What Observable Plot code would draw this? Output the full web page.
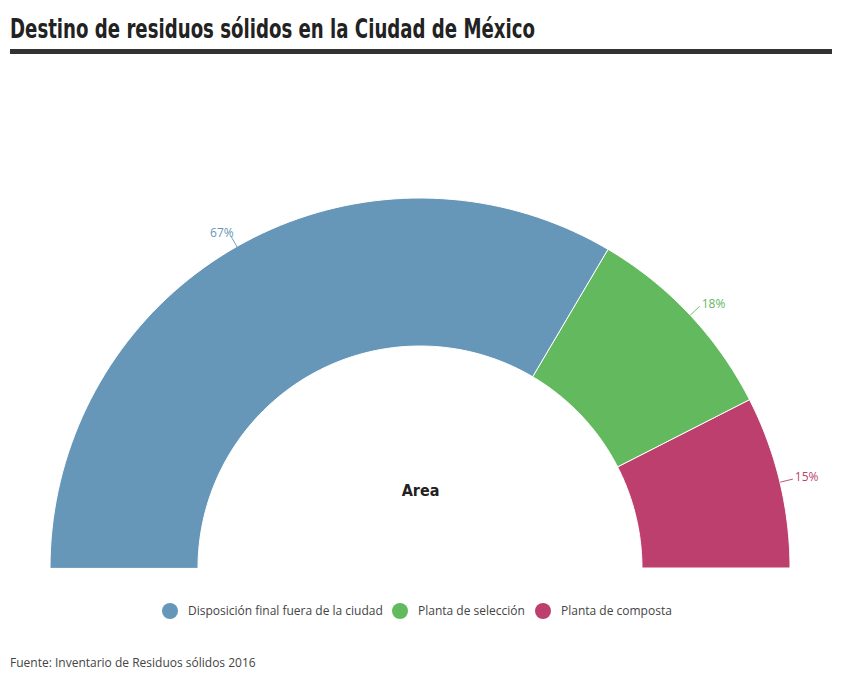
<!DOCTYPE html>
<html><head><meta charset="utf-8">
<script src="https://cdn.jsdelivr.net/npm/d3@7"></script>
<script src="https://cdn.jsdelivr.net/npm/@observablehq/plot@0.6"></script>
<style>
body{margin:0;background:#fff;width:844px;height:692px;position:relative;overflow:hidden;font-family:"Open Sans",sans-serif;}
#title{position:absolute;left:10px;top:13px;font-family:"DejaVu Sans Condensed","DejaVu Sans",sans-serif;font-stretch:condensed;font-weight:bold;font-size:27px;color:#222;white-space:nowrap;transform-origin:0 0;}
#rule{position:absolute;left:10px;top:49px;width:822px;height:5px;background:#333;}
#chart{position:absolute;left:0;top:70px;}
#legend{position:absolute;top:602px;left:0;width:844px;font-size:12px;color:#444;}
.item{position:absolute;display:flex;align-items:center;white-space:nowrap;}
.dot{width:16px;height:16px;border-radius:50%;margin-right:10px;}
#source{position:absolute;left:10px;top:654px;font-size:12px;color:#444;}
</style></head>
<body>
<div id="title">Destino de residuos sólidos en la Ciudad de México</div>
<div id="rule"></div>
<div id="chart"></div>
<div id="legend"></div>
<div id="source">Fuente: Inventario de Residuos sólidos 2016</div>
<script>
const categories = ["Disposición final fuera de la ciudad", "Planta de selección", "Planta de composta"];
const values = [67, 18, 15];
const colors = ["#6697b9", "#63b95e", "#bd3f6d"];
const centerLabel = "Area";

const inner = 0.6;
const total = d3.sum(values);
const arcs = [];
const labels = [];
let acc = 0;
values.forEach((v, i) => {
  const a0 = Math.PI - (acc / total) * Math.PI;
  acc += v;
  const a1 = Math.PI - (acc / total) * Math.PI;
  const n = 80;
  for (let k = 0; k <= n; k++) {
    const a = a0 + (a1 - a0) * k / n;
    arcs.push({cat: categories[i], x1: Math.cos(a), y1: Math.sin(a), x2: inner * Math.cos(a), y2: inner * Math.sin(a)});
  }
  const am = (a0 + a1) / 2;
  labels.push({
    cat: categories[i], text: v + "%",
    xa: Math.cos(am), ya: Math.sin(am),
    xb: 1.035 * Math.cos(am), yb: 1.035 * Math.sin(am),
    right: Math.cos(am) >= 0
  });
});

const plot = Plot.plot({
  width: 844, height: 520,
  margin: 0,
  x: {domain: [-1, 1], range: [50, 790], axis: null},
  y: {domain: [0, 1], range: [498, 128], axis: null},
  color: {domain: categories, range: colors},
  marks: [
    Plot.area(arcs, {x1: "x1", y1: "y1", x2: "x2", y2: "y2", z: "cat", fill: "cat", stroke: "white", strokeWidth: 1}),
    Plot.link(labels, {x1: "xa", y1: "ya", x2: "xb", y2: "yb", stroke: "cat", strokeOpacity: 0.9}),
    Plot.text(labels.filter(d => d.right), {x: "xb", y: "yb", text: "text", fill: "cat", textAnchor: "start", dx: 2, dy: -2, fontSize: 12, fontFamily: "Open Sans"}),
    Plot.text(labels.filter(d => !d.right), {x: "xb", y: "yb", text: "text", fill: "cat", textAnchor: "end", dx: 3, dy: -3, fontSize: 12, fontFamily: "Open Sans"}),
    Plot.text([centerLabel], {x: 0, y: inner * 0.35, text: d => d, fontSize: 16, fontWeight: "bold", fill: "#222", fontFamily: "DejaVu Sans Condensed, DejaVu Sans", fontStretch: "condensed"})
  ]
});
plot.querySelectorAll("text").forEach(t => { if (t.textContent === centerLabel) t.style.fontStretch = "condensed"; });
document.getElementById("chart").appendChild(plot);

const legend = document.getElementById("legend");
const lx = [162, 392, 535];
categories.forEach((c, i) => {
  const it = document.createElement("div");
  it.className = "item";
  it.style.left = lx[i] + "px";
  it.innerHTML = `<div class="dot" style="background:${colors[i]}"></div><span>${c}</span>`;
  legend.appendChild(it);
});

// fit title to the reference width
const title = document.getElementById("title");
const w = title.getBoundingClientRect().width;
title.style.transform = `scaleX(${525 / w})`;
</script>
</body></html>
